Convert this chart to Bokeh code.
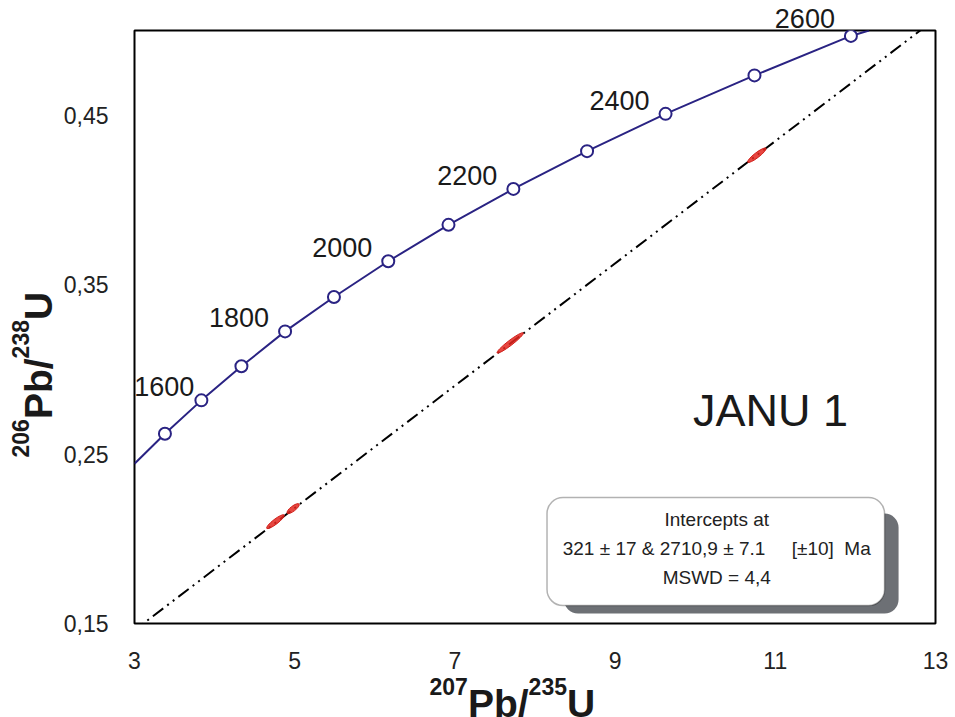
import math
from bokeh.plotting import figure
from bokeh.layouts import row, column
from bokeh.models import (FixedTicker, CustomJSTickFormatter, LabelSet, ColumnDataSource,
                          BoxAnnotation, Label, Range1d)
from bokeh.core.properties import value
from bokeh.embed import file_html
from bokeh.resources import INLINE

# ---- data ----
# concordia age markers (Ma) and their ratios
conc_age = [1500, 1600, 1700, 1800, 1900, 2000, 2100, 2200, 2300, 2400, 2500, 2600]
conc_x = [3.38, 3.835, 4.335, 4.88, 5.49, 6.168, 6.92, 7.73, 8.65, 9.63, 10.74, 11.944]
conc_y = [0.262, 0.2817, 0.3018, 0.3224, 0.3427, 0.3638, 0.3853, 0.4065, 0.4288, 0.4508, 0.4735, 0.4968]
# concordia curve (marker points plus entry/exit at the frame)
curve_x = [3.0] + conc_x + [12.17]
curve_y = [0.2443] + conc_y + [0.500]
# labelled ages
lab_age = ["1600", "1800", "2000", "2200", "2400", "2600"]
lab_x = [3.835, 4.88, 6.168, 7.73, 9.63, 11.944]
lab_y = [0.2817, 0.3224, 0.3638, 0.4065, 0.4508, 0.4968]
# discordia through the two intercepts (321 Ma and 2710.9 Ma)
disc_x = [0.372, 13.44]
disc_y = [0.0511, 0.5228]
# analyses (error ellipse centres)
ell_x = [4.76, 4.98, 7.69, 10.77]
ell_y = [0.2101, 0.2178, 0.3156, 0.4264]
ell_len = [22, 15, 33, 23]  # ellipse long axis, px

x_ticks = [3, 5, 7, 9, 11, 13]
y_ticks = [0.15, 0.25, 0.35, 0.45]

FONT = "Liberation Sans"
NAVY = "#2a2383"
TXT = "#1a1a1a"
SUP, BIG = 23, 39  # px sizes of superscript / main glyphs in axis titles


def strip(w, h, x_range=None, ml=0, mr=0):
    f = figure(width=w, height=h, output_backend="svg", toolbar_location=None,
               x_range=x_range if x_range is not None else Range1d(0, w), y_range=Range1d(0, h),
               x_axis_location=None, y_axis_location=None,
               min_border_left=ml, min_border_right=mr, min_border_top=0, min_border_bottom=0)
    f.outline_line_color = None
    f.grid.visible = False
    f.background_fill_color = "white"
    f.border_fill_color = "white"
    return f


# ---- main plot ----
p = figure(width=890, height=645, x_range=(3, 13), y_range=(0.15, 0.5),
           output_backend="svg", toolbar_location=None,
           min_border_left=73, min_border_right=15, min_border_top=2, min_border_bottom=50)
p.grid.visible = False
p.outline_line_color = "black"
p.outline_line_width = 2
p.background_fill_color = "white"
p.border_fill_color = "white"

for ax in (p.xaxis[0], p.yaxis[0]):
    ax.axis_line_color = None
    ax.major_tick_line_color = None
    ax.minor_tick_line_color = None
    ax.major_label_text_font = FONT
    ax.major_label_text_font_size = "23px"
    ax.major_label_text_color = "#222222"

p.xaxis.ticker = FixedTicker(ticks=x_ticks)
p.yaxis.ticker = FixedTicker(ticks=y_ticks)
p.yaxis.formatter = CustomJSTickFormatter(code="return tick.toFixed(2).replace('.', ',');")
p.xaxis.formatter = CustomJSTickFormatter(code="return tick.toFixed(0);")
p.xaxis.major_label_standoff = 22
p.yaxis.major_label_standoff = 20

# discordia
p.line(disc_x, disc_y, line_color="black", line_width=2, line_dash="13 5 2 5 2 5")

# ellipses
p.ellipse(ell_x, ell_y, width=ell_len, height=5, width_units="screen", height_units="screen",
          angle=0.655, fill_color="#e3261f", fill_alpha=0.85, line_color="#d01f1a", line_width=1)

# concordia
p.line(curve_x, curve_y, line_color=NAVY, line_width=2)
p.scatter(conc_x, conc_y, size=12, fill_color="white", line_color=NAVY, line_width=2)

# age labels inside the frame
src = ColumnDataSource(dict(x=lab_x[:-1], y=lab_y[:-1], t=lab_age[:-1], dx=[-7, -16, -16, -16, -16]))
p.add_layout(LabelSet(x="x", y="y", text="t", source=src, x_offset="dx", y_offset=4,
                      text_align="right", text_baseline="alphabetic", text_font=value(FONT),
                      text_font_size="27px", text_color=TXT))

p.add_layout(Label(x=10.94, y=0.2757, text="JANU 1", text_align="center", text_baseline="middle",
                   text_font=FONT, text_font_size="45px", text_color=TXT))

# info box with shadow
p.add_layout(BoxAnnotation(left=8.362, right=12.539, bottom=0.1559, top=0.2149,
                           fill_color="#6d7075", fill_alpha=1, line_color=None, border_radius=14))
p.add_layout(BoxAnnotation(left=8.150, right=12.364, bottom=0.1606, top=0.2243,
                           fill_color="white", fill_alpha=1, line_color="black", line_width=1.5,
                           border_radius=16))
NB = "\u00a0"
for txt, yy in [("Intercepts at", 0.2114),
                ("321 \u00b1 17 & 2710,9 \u00b1 7.1" + NB * 5 + "[\u00b110]" + NB * 2 + "Ma", 0.1942),
                ("MSWD = 4,4", 0.1771)]:
    p.add_layout(Label(x=10.269, y=yy, text=txt, text_align="center", text_baseline="middle",
                       text_font=FONT, text_font_size="19px", text_color="#222222"))

# ---- top strip: the 2600 label that sits above the frame ----
top = strip(890, 28, x_range=p.x_range, ml=73, mr=15)
top.text(x=[lab_x[-1]], y=[10], text=[lab_age[-1]], x_offset=-16, text_font=value(FONT),
         text_font_size="27px", text_color=TXT, text_align="right", text_baseline="alphabetic")

# ---- bottom strip: x title 207Pb/235U (offsets in px from the frame's left edge) ----
bot = strip(890, 44, x_range=p.x_range, ml=73, mr=15)
for txt, dx, base, size in [("207", 295, 24, SUP), ("Pb/", 333.4, 2, BIG),
                            ("235", 394.1, 24, SUP), ("U", 432.5, 2, BIG)]:
    bot.text(x=[p.x_range.start], y=[base + 0.3 * size], text=[txt], x_offset=dx,
             text_font=value(FONT), text_font_style="bold", text_font_size=f"{size}px",
             text_color=TXT, text_align="left", text_baseline="alphabetic")

# ---- left strip: y title 206Pb/238U (rotated) ----
left = strip(60, 717)
for txt, base, ypos, size in [("206", 27, 260, SUP), ("Pb/", 50, 298.4, BIG),
                              ("238", 27, 359.1, SUP), ("U", 50, 397.5, BIG)]:
    left.text(x=[base - 0.3 * size], y=[ypos], text=[txt], angle=math.pi / 2,
              text_font=value(FONT), text_font_style="bold", text_font_size=f"{size}px",
              text_color=TXT, text_align="left", text_baseline="alphabetic")

layout = row(left, column(top, p, bot, spacing=0), spacing=0)
open("out.html", "w").write(file_html(layout, INLINE))
